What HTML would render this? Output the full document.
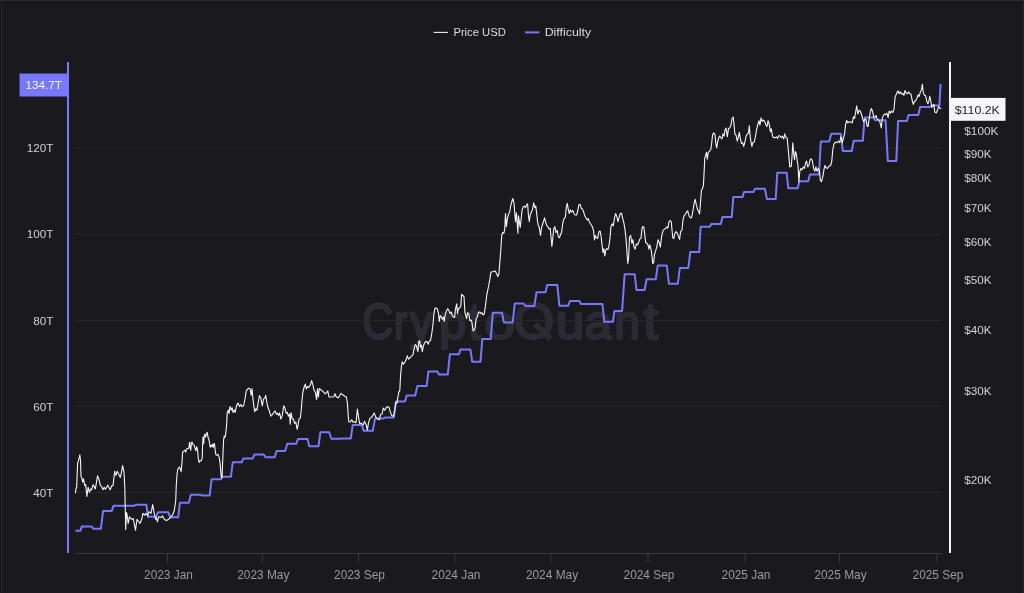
<!DOCTYPE html>
<html><head><meta charset="utf-8"><title>Chart</title>
<style>
html,body{margin:0;padding:0;background:#1a191d;}
body{width:1024px;height:593px;overflow:hidden;position:relative;font-family:"Liberation Sans",sans-serif;}
#frame{position:absolute;left:0;top:0;width:1024px;height:593px;box-sizing:border-box;background:#1a191d;}
svg text{font-family:"Liberation Sans",sans-serif;}
.yl{font-size:11.7px;fill:#d2d2d6;}
.xl{font-size:11.9px;fill:#9a99a3;}
.lg{font-size:11.6px;fill:#dcdce0;}
</style></head><body>
<div id="frame"></div>
<svg width="1024" height="593" viewBox="0 0 1024 593" style="position:absolute;left:0;top:0;will-change:transform">
<rect x="0" y="0" width="1" height="593" fill="#141316"/><rect x="1" y="0" width="1" height="593" fill="#26252d"/><rect x="1023" y="0" width="1" height="593" fill="#27272f"/><rect x="0" y="0" width="1024" height="1" fill="#2a2a32"/><rect x="2" y="1" width="1021" height="1" fill="#18171b"/>
<g fill="#2c2b34" stroke="#2c2b34" stroke-width="2.4" stroke-linejoin="round" font-size="50">
<text transform="matrix(0.8432 0 0 0.992 362.46 338.8)" vector-effect="non-scaling-stroke" x="0" y="0">C</text>
<text transform="matrix(0.7680 0 0 0.956 394.15 338.8)" vector-effect="non-scaling-stroke" x="0" y="0">r</text>
<text transform="matrix(0.8959 0 0 0.956 409.89 338.8)" vector-effect="non-scaling-stroke" x="0" y="0">y</text>
<text transform="matrix(0.9873 0 0 0.956 439.02 338.8)" vector-effect="non-scaling-stroke" x="0" y="0">p</text>
<text transform="matrix(0.9084 0 0 1.034 468.51 338.8)" vector-effect="non-scaling-stroke" x="0" y="0">t</text>
<text transform="matrix(1.1182 0 0 0.956 484.35 338.8)" vector-effect="non-scaling-stroke" x="0" y="0">o</text>
<text transform="matrix(1.0489 0 0 0.992 513.51 338.8)" vector-effect="non-scaling-stroke" x="0" y="0">O</text>
<text transform="matrix(1.0169 0 0 0.956 556.10 338.8)" vector-effect="non-scaling-stroke" x="0" y="0">u</text>
<text transform="matrix(0.9694 0 0 0.956 584.84 338.8)" vector-effect="non-scaling-stroke" x="0" y="0">a</text>
<text transform="matrix(0.9228 0 0 0.956 614.14 338.8)" vector-effect="non-scaling-stroke" x="0" y="0">n</text>
<text transform="matrix(1.0415 0 0 1.034 643.71 338.8)" vector-effect="non-scaling-stroke" x="0" y="0">t</text>
<path d="M535.0,324.2 L551.0,339.0" stroke-width="6.2" stroke-linecap="butt" fill="none"/>
</g>
<rect x="75" y="147.6" width="867" height="1" fill="#27272d"/>
<rect x="75" y="233.8" width="867" height="1" fill="#27272d"/>
<rect x="75" y="320.0" width="867" height="1" fill="#27272d"/>
<rect x="75" y="405.9" width="867" height="1" fill="#27272d"/>
<rect x="75" y="492.1" width="867" height="1" fill="#27272d"/>
<rect x="75" y="553" width="867" height="1" fill="#3b3a45"/>
<rect x="167.0" y="553" width="1" height="9.5" fill="#3b3a45"/>
<text x="168.5" y="578.6" text-anchor="middle" class="xl">2023 Jan</text>
<rect x="261.8" y="553" width="1" height="9.5" fill="#3b3a45"/>
<text x="263.3" y="578.6" text-anchor="middle" class="xl">2023 May</text>
<rect x="358.0" y="553" width="1" height="9.5" fill="#3b3a45"/>
<text x="359.5" y="578.6" text-anchor="middle" class="xl">2023 Sep</text>
<rect x="454.5" y="553" width="1" height="9.5" fill="#3b3a45"/>
<text x="456.0" y="578.6" text-anchor="middle" class="xl">2024 Jan</text>
<rect x="550.5" y="553" width="1" height="9.5" fill="#3b3a45"/>
<text x="552.0" y="578.6" text-anchor="middle" class="xl">2024 May</text>
<rect x="647.5" y="553" width="1" height="9.5" fill="#3b3a45"/>
<text x="649.0" y="578.6" text-anchor="middle" class="xl">2024 Sep</text>
<rect x="744.5" y="553" width="1" height="9.5" fill="#3b3a45"/>
<text x="746.0" y="578.6" text-anchor="middle" class="xl">2025 Jan</text>
<rect x="839.0" y="553" width="1" height="9.5" fill="#3b3a45"/>
<text x="840.5" y="578.6" text-anchor="middle" class="xl">2025 May</text>
<rect x="936.5" y="553" width="1" height="9.5" fill="#3b3a45"/>
<text x="938.0" y="578.6" text-anchor="middle" class="xl">2025 Sep</text>
<defs><filter id="sf" x="0" y="0" width="1024" height="593" filterUnits="userSpaceOnUse"><feGaussianBlur stdDeviation="0.33"/></filter></defs><g filter="url(#sf)">
<path d="M75.4,530.8 L80.5,530.8 L81.8,526.4 L91.6,526.4 L93.3,528.7 L100.9,528.7 L103.1,510.9 L111.8,510.9 L113.5,505.8 L134.1,505.8 L135.8,504.8 L146.4,504.8 L148.1,516.8 L156.0,516.8 L158.1,512.2 L168.4,512.2 L170.2,517.3 L178.2,517.3 L179.9,502.7 L188.9,502.7 L190.8,494.7 L200.2,494.7 L201.9,495.4 L209.7,495.4 L211.6,479.3 L220.8,479.3 L222.4,476.7 L230.9,476.7 L232.8,462.2 L241.8,462.2 L243.4,458.4 L252.9,458.4 L254.4,454.6 L263.8,454.6 L265.7,457.3 L274.7,457.3 L276.6,451.0 L285.2,451.0 L287.3,443.8 L296.1,443.8 L298.0,439.1 L307.5,439.1 L309.3,446.2 L318.5,446.2 L320.4,432.2 L329.2,432.2 L331.3,438.8 L341.3,438.8 L342.7,438.4 L350.8,438.4 L352.7,424.9 L361.8,424.9 L363.6,430.8 L372.8,430.8 L375.0,418.6 L383.1,418.6 L385.3,417.5 L393.9,417.5 L395.9,401.6 L405.0,401.6 L406.7,395.5 L415.2,395.5 L417.4,385.9 L426.7,385.9 L428.4,371.6 L437.5,371.6 L439.0,374.5 L447.8,374.5 L449.9,354.2 L459.0,354.2 L460.4,349.5 L470.4,349.5 L472.2,361.7 L480.5,361.7 L482.3,339.1 L490.7,339.1 L492.8,312.7 L502.0,312.7 L503.9,322.5 L512.7,322.5 L514.8,303.5 L523.6,303.5 L525.6,306.1 L534.3,306.1 L536.5,292.3 L545.5,292.3 L547.2,284.9 L557.3,284.9 L559.4,305.7 L568.2,305.7 L569.9,301.0 L579.3,301.0 L581.1,303.9 L602.4,303.9 L604.3,321.8 L612.9,321.8 L614.5,311.0 L622.1,311.0 L624.6,274.2 L634.7,274.2 L636.5,290.0 L644.6,290.0 L646.6,279.2 L655.8,279.2 L657.7,265.6 L666.8,265.6 L668.9,283.7 L677.9,283.7 L679.8,268.0 L688.3,268.0 L690.3,252.1 L699.2,252.1 L700.6,226.7 L709.8,226.7 L711.3,224.0 L720.8,224.0 L722.5,216.9 L731.8,216.9 L733.3,197.1 L742.5,197.1 L744.0,192.0 L753.2,192.0 L755.1,188.7 L764.9,188.7 L766.9,199.0 L775.7,199.0 L777.3,172.7 L786.6,172.7 L788.3,188.3 L797.7,188.3 L799.4,181.3 L808.2,181.3 L809.9,174.6 L819.0,174.6 L820.8,141.5 L829.2,141.5 L831.2,133.8 L841.0,133.8 L842.8,151.0 L851.8,151.0 L853.7,140.8 L862.8,140.8 L864.6,117.6 L873.1,117.6 L875.3,120.3 L885.6,120.3 L887.8,160.9 L896.3,160.9 L898.1,120.9 L906.9,120.9 L908.6,115.0 L918.3,115.0 L920.1,106.9 L929.6,106.9 L931.8,105.6 L939.4,105.6 L940.6,83.9" fill="none" stroke="#7878fe" stroke-width="2" stroke-linejoin="round" stroke-linecap="butt"/>
<path d="M75.4,493.1 L76.1,488.1 L76.7,487.2 L77.6,463.6 L78.8,459.4 L79.8,454.8 L80.5,460.2 L81.0,476.3 L81.8,478.0 L82.7,482.2 L83.5,478.8 L84.8,485.6 L85.7,484.7 L86.9,496.5 L88.1,487.2 L89.4,492.3 L90.6,488.9 L91.6,489.8 L93.1,484.7 L94.1,486.4 L95.3,488.9 L96.2,483.9 L97.5,475.8 L99.0,479.6 L100.4,485.6 L101.6,486.4 L102.9,489.8 L104.2,487.2 L105.4,489.3 L107.8,485.2 L110.2,489.8 L111.8,485.6 L113.0,485.6 L114.7,471.2 L115.9,475.4 L117.2,471.2 L118.9,474.6 L120.3,477.5 L121.5,472.1 L122.6,465.6 L124.0,472.1 L124.8,487.2 L125.7,529.4 L126.4,512.5 L127.0,514.2 L128.2,523.5 L129.4,516.8 L131.6,519.3 L133.3,518.5 L135.5,530.3 L137.0,519.3 L138.3,521.0 L140.0,523.5 L141.7,519.3 L142.9,513.4 L144.6,515.1 L145.9,513.4 L147.6,515.9 L149.0,511.7 L151.0,513.4 L152.7,504.6 L154.4,514.2 L155.7,519.3 L156.4,517.6 L157.4,521.8 L158.6,516.8 L161.1,517.6 L162.5,515.9 L164.5,519.6 L166.5,520.6 L169.5,518.5 L172.4,515.2 L174.3,510.5 L175.7,501.0 L176.3,485.0 L177.1,473.5 L177.7,469.5 L179.3,467.0 L180.1,468.5 L181.1,471.7 L181.9,463.4 L182.6,452.3 L183.7,451.1 L185.0,450.3 L185.7,452.1 L186.4,449.3 L187.7,448.5 L189.0,448.1 L189.5,442.4 L190.2,446.7 L190.8,450.3 L191.4,442.2 L192.2,442.4 L193.1,444.7 L194.1,445.2 L194.9,447.8 L195.9,450.8 L196.7,446.7 L197.5,449.3 L198.3,458.4 L199.1,462.4 L200.1,460.9 L201.3,460.6 L202.2,458.4 L202.6,445.2 L203.0,437.1 L203.6,443.7 L204.2,436.1 L204.9,434.1 L205.6,437.1 L206.2,434.6 L207.2,432.3 L208.0,437.1 L208.8,439.2 L209.6,443.2 L210.2,447.2 L211.1,445.2 L211.9,446.7 L212.7,444.2 L213.3,447.4 L214.1,443.4 L214.7,445.2 L215.3,451.3 L215.9,454.8 L216.7,455.3 L217.7,454.3 L218.5,455.3 L219.3,457.9 L220.1,463.4 L220.6,469.5 L221.1,475.6 L221.6,478.1 L222.1,475.6 L222.6,463.4 L223.1,450.3 L223.6,440.2 L224.2,436.1 L225.1,437.1 L225.8,433.1 L226.6,425.0 L227.2,412.4 L228.4,410.1 L229.1,413.6 L230.0,406.5 L231.2,410.1 L232.1,407.7 L233.1,412.4 L234.3,410.1 L235.2,412.4 L236.6,405.4 L238.0,403.0 L239.5,406.5 L240.9,404.6 L242.2,406.6 L243.7,405.5 L245.1,398.5 L246.2,391.1 L247.6,388.9 L249.1,388.2 L250.3,389.4 L251.2,395.3 L252.0,388.5 L252.9,398.5 L253.9,406.6 L254.7,411.7 L255.9,408.8 L256.9,410.2 L257.9,404.4 L259.4,395.5 L260.8,397.8 L262.3,405.8 L263.5,399.2 L265.0,397.8 L265.7,395.3 L266.7,401.4 L267.9,407.3 L269.1,410.2 L270.8,416.1 L272.3,414.6 L274.1,412.0 L275.2,411.0 L276.4,414.3 L277.6,413.2 L278.5,415.4 L279.6,412.9 L280.8,419.0 L282.3,415.4 L283.7,405.8 L284.9,408.0 L286.1,413.2 L287.3,412.4 L288.4,416.1 L289.6,413.9 L290.2,424.2 L291.1,412.9 L292.3,419.0 L293.4,419.0 L294.6,423.4 L295.8,422.0 L297.2,429.3 L298.1,424.9 L299.0,419.0 L300.2,418.3 L301.1,411.7 L301.9,401.4 L302.8,392.6 L304.0,387.5 L305.3,384.1 L306.3,388.9 L307.5,386.4 L308.7,387.5 L310.2,385.3 L311.6,380.6 L312.8,384.5 L314.1,390.4 L315.4,392.3 L316.6,399.7 L317.5,388.9 L318.4,397.0 L319.3,388.5 L320.7,389.7 L322.9,391.4 L325.1,393.8 L326.6,392.6 L327.8,390.9 L328.9,397.0 L331.0,397.0 L333.9,396.7 L335.1,393.8 L336.3,397.0 L338.3,397.8 L339.8,395.5 L341.0,393.3 L342.7,394.8 L344.9,396.3 L346.4,397.0 L347.4,402.9 L348.2,416.1 L348.9,422.0 L350.4,421.7 L351.8,419.8 L353.0,422.3 L354.5,421.7 L356.0,422.7 L357.4,409.1 L358.6,417.6 L359.6,423.4 L361.5,423.4 L363.3,424.9 L364.5,421.2 L366.2,424.9 L367.4,430.0 L368.4,423.4 L369.9,418.3 L371.4,417.6 L372.8,415.4 L374.2,412.9 L375.3,416.1 L376.5,418.3 L378.0,419.0 L379.4,419.8 L380.6,414.6 L382.1,413.9 L383.3,408.0 L384.6,410.2 L386.0,408.0 L387.5,406.6 L389.1,407.5 L390.3,411.9 L391.7,415.6 L393.5,416.3 L394.7,410.5 L395.9,402.4 L396.9,403.1 L397.9,397.2 L398.8,392.1 L399.8,390.6 L400.5,376.7 L401.4,366.4 L402.3,361.7 L403.5,364.2 L405.0,362.0 L406.1,359.8 L407.3,355.9 L408.6,359.1 L410.1,357.6 L411.6,356.1 L413.0,354.7 L414.1,348.8 L415.2,344.6 L416.4,345.6 L417.2,348.8 L417.9,351.6 L418.8,341.3 L419.7,341.0 L420.5,347.2 L421.4,345.0 L422.3,351.6 L423.5,345.4 L424.7,342.8 L425.8,341.3 L427.3,342.1 L428.2,344.3 L429.1,341.3 L430.5,340.6 L431.7,334.0 L432.9,325.2 L433.8,314.9 L434.9,308.3 L436.0,307.9 L437.4,309.0 L438.5,313.4 L439.3,321.5 L440.2,315.6 L441.1,316.4 L442.3,319.3 L443.4,317.1 L444.3,321.5 L445.2,314.9 L446.4,311.2 L447.6,308.7 L448.7,309.8 L449.9,313.4 L451.1,312.0 L452.3,315.6 L453.4,317.1 L454.6,317.5 L455.5,309.0 L456.7,303.9 L457.5,313.4 L458.4,308.3 L459.6,308.3 L460.8,306.1 L461.6,294.4 L462.8,295.5 L464.0,296.6 L464.9,312.0 L465.8,315.6 L466.6,318.6 L467.5,312.7 L468.7,313.4 L469.9,320.8 L471.0,320.0 L471.9,322.2 L473.1,331.0 L474.3,329.6 L475.2,327.4 L476.0,319.3 L477.2,317.1 L478.4,312.7 L479.6,312.0 L480.7,313.4 L481.9,312.7 L483.1,314.9 L484.2,314.2 L485.4,306.1 L486.9,294.4 L488.4,287.0 L489.8,279.7 L490.9,272.2 L493.1,271.5 L495.3,271.0 L496.7,274.0 L497.9,276.6 L498.9,273.7 L500.0,260.5 L500.9,248.7 L501.7,235.5 L502.6,232.6 L503.8,233.3 L504.7,229.6 L505.5,213.5 L506.4,226.7 L507.3,219.4 L508.5,214.2 L509.7,212.0 L510.8,205.4 L512.0,201.0 L512.9,198.5 L514.1,203.9 L514.9,215.0 L515.5,221.6 L516.4,212.8 L517.3,224.5 L517.9,233.3 L518.5,215.7 L519.3,221.6 L520.2,227.4 L521.1,219.4 L522.0,210.5 L523.2,206.9 L524.3,206.1 L525.5,207.6 L526.7,204.7 L527.6,203.9 L528.4,215.0 L529.3,221.6 L530.2,215.0 L531.4,212.0 L532.6,209.1 L533.7,202.9 L534.9,207.6 L535.8,206.1 L536.7,213.5 L537.5,221.6 L538.4,226.0 L539.3,227.4 L540.5,235.5 L541.4,228.2 L542.5,224.5 L543.7,220.8 L544.6,217.9 L545.5,221.6 L546.6,225.2 L547.8,226.7 L549.0,228.9 L550.2,228.2 L551.0,237.0 L551.9,246.5 L552.8,238.4 L553.7,228.9 L554.9,226.7 L556.0,232.6 L557.2,230.4 L558.4,237.0 L559.6,237.7 L560.7,234.0 L561.6,232.6 L562.5,225.2 L563.4,220.1 L564.6,217.9 L565.4,217.2 L566.3,207.6 L567.2,203.2 L568.4,209.8 L569.3,213.5 L570.4,209.8 L571.6,212.0 L572.8,210.5 L573.9,213.5 L575.1,215.0 L576.6,215.0 L577.8,210.5 L578.9,204.7 L580.1,204.4 L581.3,208.3 L582.5,209.1 L583.6,212.0 L584.8,215.7 L586.0,217.9 L587.2,220.1 L588.3,218.6 L589.5,222.3 L591.0,224.5 L592.4,226.7 L593.6,231.1 L594.5,239.9 L595.4,235.5 L596.6,237.7 L597.7,238.4 L598.9,231.8 L600.1,231.1 L601.2,237.0 L602.1,245.8 L603.0,252.4 L603.9,248.7 L604.8,256.0 L605.7,250.2 L606.8,248.7 L608.0,249.4 L609.2,244.3 L610.1,237.0 L610.9,226.7 L612.1,223.8 L613.3,226.0 L614.5,217.9 L615.6,213.5 L616.8,216.4 L618.0,221.6 L619.2,217.2 L620.3,213.5 L621.5,213.2 L622.7,218.6 L623.9,223.0 L625.0,229.6 L626.0,238.4 L626.9,251.0 L627.8,263.4 L628.7,256.6 L629.5,237.0 L630.7,235.6 L631.9,243.5 L632.8,239.5 L633.9,246.5 L635.1,249.2 L636.3,244.1 L637.5,244.8 L638.6,242.6 L639.8,238.9 L641.0,238.2 L641.9,229.4 L642.7,226.5 L643.9,227.2 L644.8,235.3 L645.7,242.6 L646.9,243.3 L648.0,244.8 L648.9,249.2 L649.8,244.8 L651.0,249.2 L651.8,254.4 L652.7,263.5 L653.6,262.9 L654.5,254.4 L655.7,250.7 L656.8,247.0 L658.0,239.7 L659.2,242.3 L660.4,247.0 L661.2,239.7 L662.1,233.8 L663.3,230.1 L664.8,228.9 L665.9,228.3 L667.1,226.9 L667.9,228.0 L669.1,221.4 L670.2,220.6 L671.3,221.8 L672.0,230.0 L672.8,237.8 L673.8,238.6 L674.7,233.9 L675.9,231.6 L677.3,233.1 L678.4,236.3 L679.6,239.4 L680.6,231.6 L682.0,230.0 L683.0,219.8 L684.1,215.9 L685.5,214.0 L686.6,212.0 L687.7,210.9 L688.6,214.4 L689.5,216.7 L690.5,217.9 L691.7,217.2 L692.9,211.0 L694.1,203.7 L695.2,199.3 L696.4,205.2 L697.6,209.6 L698.8,211.8 L699.6,214.0 L700.5,202.2 L701.4,190.5 L702.6,188.3 L703.4,185.4 L704.0,174.4 L704.8,158.2 L705.7,154.8 L706.5,152.3 L707.3,159.3 L708.2,152.6 L709.2,151.4 L710.2,150.4 L710.9,149.3 L711.7,143.0 L712.6,134.6 L713.8,132.9 L715.0,134.6 L715.8,143.4 L716.7,147.8 L717.6,142.0 L718.5,138.3 L719.7,136.1 L720.8,137.6 L722.0,139.0 L722.9,133.9 L724.1,136.1 L724.9,130.2 L726.1,128.0 L727.3,136.8 L728.5,128.8 L729.6,128.0 L730.8,125.8 L732.0,118.5 L733.2,117.0 L734.0,124.4 L734.9,133.9 L736.1,135.4 L737.3,141.2 L738.4,136.8 L739.3,132.4 L740.2,137.6 L741.4,143.4 L742.6,142.7 L743.7,146.4 L744.9,142.0 L746.1,136.1 L747.3,133.9 L748.4,133.2 L749.3,125.8 L750.2,136.1 L751.1,142.7 L751.9,146.4 L752.8,142.7 L754.3,142.0 L755.5,136.1 L756.6,129.5 L757.8,124.4 L759.0,120.7 L759.9,125.1 L761.1,117.8 L762.2,121.4 L763.4,120.0 L764.6,121.4 L765.7,124.4 L766.9,126.6 L768.1,120.7 L769.3,124.4 L770.4,131.7 L771.3,128.8 L772.5,136.1 L773.7,137.6 L775.4,137.6 L776.6,136.8 L777.8,138.3 L779.0,135.4 L780.1,136.1 L781.3,137.6 L782.5,136.1 L783.7,139.0 L784.8,133.9 L786.0,137.6 L787.2,138.3 L788.1,147.8 L788.9,156.6 L789.8,166.9 L791.3,166.2 L792.2,153.7 L792.8,142.7 L793.6,152.2 L794.5,159.6 L795.4,151.5 L796.3,153.7 L797.2,161.0 L798.0,165.5 L798.9,181.6 L799.8,171.3 L801.0,168.4 L802.1,169.9 L803.3,166.9 L804.5,168.4 L805.7,162.5 L806.6,161.0 L807.7,166.9 L808.9,165.5 L810.1,159.6 L811.2,158.8 L812.4,161.0 L813.6,168.4 L814.8,171.3 L815.9,166.9 L817.1,171.3 L818.3,168.4 L819.5,171.3 L820.3,180.1 L821.5,181.6 L822.7,177.2 L823.9,169.9 L825.0,165.5 L826.2,167.7 L827.4,168.4 L828.9,166.2 L830.6,165.5 L831.8,161.0 L832.8,149.5 L834.0,143.8 L835.7,142.0 L837.2,142.6 L838.6,141.1 L839.8,142.6 L840.8,136.7 L842.3,142.6 L843.5,138.2 L844.6,133.8 L845.5,125.0 L846.7,120.6 L847.9,122.8 L849.3,121.7 L850.8,122.0 L852.3,122.8 L853.4,116.9 L854.6,118.4 L855.8,111.0 L856.7,105.9 L857.8,114.0 L859.0,110.3 L860.2,111.0 L861.4,114.0 L862.5,118.4 L863.7,121.7 L864.9,119.1 L866.1,119.8 L867.2,126.4 L868.1,126.4 L869.0,119.8 L870.2,112.5 L871.3,108.5 L872.5,111.0 L873.7,116.9 L874.9,117.6 L876.0,115.4 L877.2,119.1 L878.4,119.8 L879.6,120.6 L880.4,124.2 L881.3,127.9 L882.2,118.4 L883.4,115.4 L884.6,114.0 L885.7,114.7 L886.9,113.2 L888.1,117.6 L889.2,111.0 L890.4,113.2 L891.6,111.0 L892.8,112.5 L893.9,109.6 L895.1,97.1 L896.6,93.4 L898.1,90.9 L899.2,93.8 L900.4,91.9 L901.6,94.1 L902.8,93.4 L903.9,95.3 L905.1,90.5 L906.3,93.4 L907.4,93.8 L908.6,91.9 L909.8,93.8 L911.0,94.1 L912.1,100.0 L913.3,104.4 L914.5,101.5 L915.7,100.7 L916.8,98.5 L918.0,94.9 L919.2,96.3 L920.4,91.9 L921.5,89.7 L922.4,84.2 L923.3,92.7 L924.5,95.3 L925.6,95.6 L926.8,101.5 L928.0,103.7 L928.9,100.7 L929.8,96.3 L930.6,100.0 L931.8,107.4 L933.0,105.2 L933.9,104.4 L934.7,112.0 L936.2,112.9 L937.4,110.3 L938.6,106.6 L939.7,108.1 L941.3,108.8" fill="none" stroke="#f6f6f6" stroke-width="1.1" stroke-linejoin="round" stroke-linecap="butt"/>
</g>
<rect x="67" y="62" width="2" height="491" fill="#7878fe"/>
<rect x="949" y="62" width="2" height="491" fill="#f4f4f6"/>
<text x="53.3" y="152.1" text-anchor="end" class="yl">120T</text>
<text x="53.3" y="238.3" text-anchor="end" class="yl">100T</text>
<text x="53.3" y="324.5" text-anchor="end" class="yl">80T</text>
<text x="53.3" y="410.5" text-anchor="end" class="yl">60T</text>
<text x="53.3" y="496.6" text-anchor="end" class="yl">40T</text>
<text x="964.3" y="134.5" textLength="34.2" lengthAdjust="spacingAndGlyphs" class="yl">$100K</text>
<text x="964.3" y="157.8" textLength="27.3" lengthAdjust="spacingAndGlyphs" class="yl">$90K</text>
<text x="964.3" y="182.1" textLength="27.3" lengthAdjust="spacingAndGlyphs" class="yl">$80K</text>
<text x="964.3" y="211.9" textLength="27.3" lengthAdjust="spacingAndGlyphs" class="yl">$70K</text>
<text x="964.3" y="245.5" textLength="27.3" lengthAdjust="spacingAndGlyphs" class="yl">$60K</text>
<text x="964.3" y="284.3" textLength="27.3" lengthAdjust="spacingAndGlyphs" class="yl">$50K</text>
<text x="964.3" y="333.8" textLength="27.3" lengthAdjust="spacingAndGlyphs" class="yl">$40K</text>
<text x="964.3" y="395.1" textLength="27.3" lengthAdjust="spacingAndGlyphs" class="yl">$30K</text>
<text x="964.3" y="484.2" textLength="27.3" lengthAdjust="spacingAndGlyphs" class="yl">$20K</text>
<rect x="19.5" y="73.5" width="48" height="23" fill="#7878fe"/>
<text x="43.6" y="88.7" text-anchor="middle" class="yl" fill="#ffffff" style="fill:#f4f4ff">134.7T</text>
<rect x="950" y="97.9" width="55.5" height="22.9" fill="#f6f6fa"/>
<text x="954.7" y="113.5" textLength="45.2" lengthAdjust="spacingAndGlyphs" class="yl" style="fill:#1d1c22">$110.2K</text>
<rect x="433.7" y="31.85" width="14.3" height="1.1" fill="#efeff1"/>
<text x="453.4" y="35.8" textLength="52.4" lengthAdjust="spacingAndGlyphs" class="lg">Price USD</text>
<rect x="524.9" y="31.4" width="14.5" height="2" fill="#7878fe"/>
<text x="544.7" y="35.8" textLength="46.4" lengthAdjust="spacingAndGlyphs" class="lg">Difficulty</text>
</svg>
</body></html>
